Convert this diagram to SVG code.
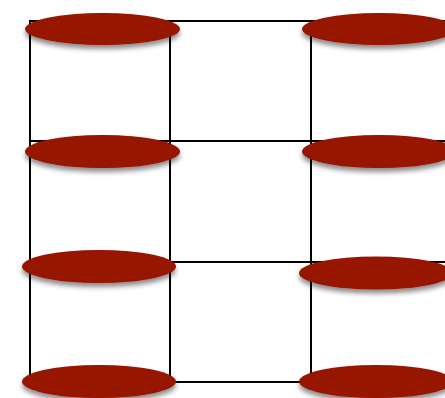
<svg xmlns="http://www.w3.org/2000/svg" width="445" height="398" viewBox="0 0 445 398">
<defs>
<filter id="sh" x="-20%" y="-50%" width="140%" height="200%">
<feDropShadow dx="0" dy="4" stdDeviation="2.5" flood-color="#000" flood-opacity="0.45"/>
</filter>
<style>
.g{stroke:#000;stroke-width:2;fill:none;stroke-linecap:square}
.n{fill:#961200;filter:url(#sh)}
</style>
</defs>
<rect width="445" height="398" fill="#fff"/>
<g id="connectors">
<line class="g" x1="30" y1="21" x2="30" y2="382"/>
<line class="g" x1="170" y1="21" x2="170" y2="382"/>
<line class="g" x1="311" y1="21" x2="311" y2="382"/>
<line class="g" x1="30" y1="21" x2="445" y2="21"/>
<line class="g" x1="30" y1="141" x2="445" y2="141"/>
<line class="g" x1="30" y1="262" x2="445" y2="262"/>
<line class="g" x1="30" y1="382" x2="445" y2="382"/>
</g>
<g id="n1"><ellipse class="n" cx="102.5" cy="29" rx="77.5" ry="16"/></g>
<g id="n2"><ellipse class="n" cx="379" cy="29" rx="77" ry="16"/></g>
<g id="n3"><ellipse class="n" cx="102.5" cy="151.5" rx="77.5" ry="16.5"/></g>
<g id="n4"><ellipse class="n" cx="379" cy="151.5" rx="77" ry="16.5"/></g>
<g id="n5"><ellipse class="n" cx="99" cy="266.5" rx="77" ry="16.5"/></g>
<g id="n6"><ellipse class="n" cx="376" cy="273" rx="77" ry="16.5"/></g>
<g id="n7"><ellipse class="n" cx="99" cy="381.5" rx="77" ry="16.5"/></g>
<g id="n8"><ellipse class="n" cx="376" cy="381.5" rx="77" ry="16.5"/></g>
</svg>
